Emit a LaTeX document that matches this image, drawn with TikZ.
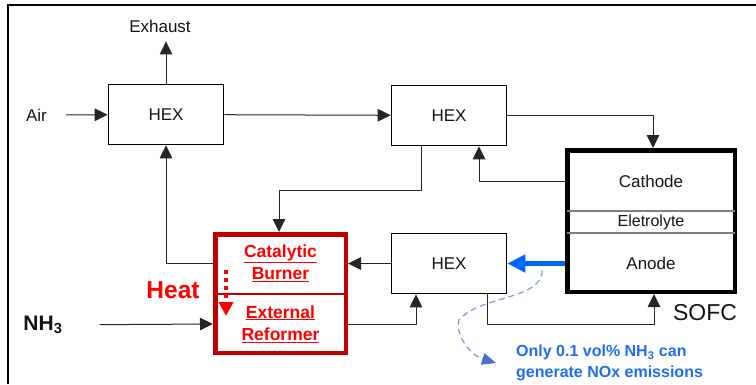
\documentclass[tikz,border=0pt]{standalone}
\usepackage{fontspec}
\setmainfont{Liberation Sans}
\usepackage{xcolor}
\usepackage{tikz}
\usetikzlibrary{positioning,arrows.meta,calc}

\definecolor{burnred}{RGB}{192,0,0}
\definecolor{heatred}{RGB}{255,0,0}
\definecolor{anodeblue}{RGB}{0,102,255}
\definecolor{noteblue}{RGB}{30,110,235}
\definecolor{curveblue}{RGB}{120,155,220}
\definecolor{tipblue}{RGB}{70,115,200}

\begin{document}
\begin{tikzpicture}[x=1pt, y=-1pt, >={Triangle[length=13pt,width=12.5pt]},
    every node/.style={font=\fontsize{17}{20}\selectfont, align=center, inner sep=2pt, text=black!92},
    hex/.style={draw, line width=1.6pt, minimum width=115pt, minimum height=60pt},
    redtext/.style={text=heatred, font=\fontsize{17.5}{22.5}\selectfont\bfseries},
    flow/.style={->, line width=1pt, black!85},
    sepline/.style={gray, line width=1.5pt, shorten <=2.25pt, shorten >=2.25pt}]
  \useasboundingbox (0,0) rectangle (756,384);
  % frame
  \draw[line width=2pt] (8,384) -- (8,5) -- (756,5);
  % nodes
  \node[hex] (hexa) at (166,114.5) {HEX};
  \node[hex] (hexb) at (449,115.5) {HEX};
  \node[hex] (hexc) at (449,263.5) {HEX};
  \node (air) at (36.5,115) {Air};
  \node (exhaust) at (160,26) {Exhaust};
  \node[font=\fontsize{21}{24}\selectfont\bfseries] (nh3) at (43,325) {NH\textsubscript{3}};
  \node[draw, line width=4.5pt, minimum width=167.5pt, minimum height=141.5pt] (sofc) at (651,221) {};
  \node (cathode) at (651,181) {Cathode};
  \node[minimum height=22pt, font=\fontsize{16}{19}\selectfont] (elec) at (651,222) {Eletrolyte};
  \node (anode) at (651,263.5) {Anode};
  \draw[sepline] (elec.north -| sofc.west) -- (elec.north -| sofc.east);
  \draw[sepline] (elec.south -| sofc.west) -- (elec.south -| sofc.east);
  \node[font=\fontsize{23}{26}\selectfont] (sofclabel) at (705,313) {SOFC};
  \node[draw=burnred, line width=4.5pt, minimum width=130.5pt, minimum height=118.5pt] (reactor) at (280.5,293.5) {};
  \coordinate (split) at (280.5,294);
  \draw[burnred, line width=2pt] (reactor.west |- split) -- (reactor.east |- split);
  \node[redtext] (burner) at (280.5,263) {\underline{Catalytic}\\\underline{Burner}};
  \node[redtext] (reformer) at (280.5,324) {\underline{External}\\\underline{Reformer}};
  \node[text=heatred, font=\fontsize{24.5}{28}\selectfont\bfseries] (heat) at (173,290) {Heat};
  \node[anchor=west, align=left, text=noteblue, font=\fontsize{16}{21}\selectfont\bfseries]
      (note) at (514,363) {Only 0.1 vol\% NH\textsubscript{3} can\\generate NOx emissions};
  % arrows forward
  \draw[flow, shorten <=17pt] (air) -- (hexa);
  \draw[flow, shorten >=7pt] (hexa.north) -- (hexa.north |- exhaust.south);
  \draw[flow] (hexa) -- (hexb);
  \draw[flow] (hexb.east) -| ([xshift=2]sofc.north);
  \draw[flow] (sofc.west |- cathode) -| ([xshift=30]hexb.south);
  \draw[flow] ([xshift=-28]hexb.south) -- ++(0,44.5) -| ([xshift=-1.5]reactor.north);
  \draw[flow] (reactor.west |- hexc) -| (hexa.south);
  \draw[flow] (hexc) -- (reactor.east |- hexc);
  \draw[flow, shorten <=35pt] (nh3) -- (reactor.west |- reformer);
  \draw[flow] (reactor.east |- reformer) -| ([xshift=-33]hexc.south);
  \draw[flow] ([xshift=38]hexc.south) -- ++(0,30) -| ([xshift=3]sofc.south);
  % anode off-gas
  \draw[anodeblue, line width=5.5pt, -{Triangle[length=18pt,width=17pt]}] (sofc.west |- anode) -- (hexc.east);
  % heat from burner to reformer
  \coordinate (heattop) at ([xshift=13,yshift=-38]reactor.north west);
  \draw[heatred, line width=4pt, dash pattern=on 4pt off 4pt, -{Triangle[length=14pt,width=14pt,sep=0pt]}]
      (heattop) -- ++(0,46);
  % note curve
  \coordinate (curvestart) at ([xshift=35,yshift=-7]hexc.east);
  \coordinate (curvemid) at (459,320);
  \coordinate (curveend) at ([xshift=-18]note.west);
  \draw[curveblue, dash pattern=on 6pt off 4pt, line width=1.2pt, -{Triangle[length=14pt,width=12pt,color=tipblue]}]
      (curvestart) .. controls +(-1,30) and +(21,-25) .. (curvemid)
      .. controls +(-4,15) and +(-26,-8) .. (curveend);
\end{tikzpicture}
\end{document}
